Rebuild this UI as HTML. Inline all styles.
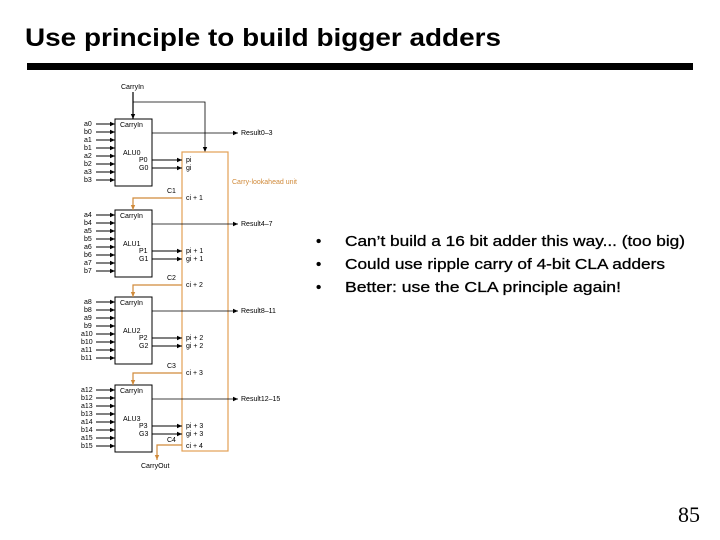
<!DOCTYPE html>
<html><head><meta charset="utf-8"><style>
html,body{margin:0;padding:0;background:#fff;width:720px;height:540px;overflow:hidden}
svg{display:block}
</style></head><body>
<svg width="720" height="540" xmlns="http://www.w3.org/2000/svg" font-family="Liberation Sans, Arial, sans-serif">
<defs>
<marker id="a" markerWidth="6" markerHeight="6" refX="5" refY="3" orient="auto" markerUnits="userSpaceOnUse"><path d="M0,0.8 L5,3 L0,5.2z" fill="#000"/></marker>
<marker id="o" markerWidth="6" markerHeight="6" refX="5" refY="3" orient="auto" markerUnits="userSpaceOnUse"><path d="M0,0.8 L5,3 L0,5.2z" fill="#d08a3a"/></marker>
</defs>
<text x="25" y="46" font-size="25" font-weight="bold" textLength="476" lengthAdjust="spacingAndGlyphs">Use principle to build bigger adders</text>
<rect x="27" y="63" width="666" height="7" fill="#000"/>

<text x="121" y="89" font-size="7">CarryIn</text>
<line x1="133" y1="92" x2="133" y2="119" stroke="#000" stroke-width="1.2" marker-end="url(#a)"/>
<polyline points="133,102 205,102 205,152" fill="none" stroke="#000" stroke-width="0.8" marker-end="url(#a)"/>

<rect x="182" y="152" width="46" height="299" fill="none" stroke="#e3a055" stroke-width="1.2"/>
<text x="232" y="184" font-size="7" fill="#d08a3a">Carry-lookahead unit</text>

<g font-size="7">
<g transform="translate(0,119)">
<rect x="115" y="0" width="37" height="67" fill="#fff" stroke="#000"/>
<text x="120" y="8">CarryIn</text><text x="123" y="36">ALU0</text><text x="139" y="43">P0</text><text x="139" y="51">G0</text>
<line x1="152" y1="41" x2="182" y2="41" stroke="#000" marker-end="url(#a)"/><line x1="152" y1="49" x2="182" y2="49" stroke="#000" marker-end="url(#a)"/>
<text x="186" y="43">pi</text><text x="186" y="51">gi</text>
<line x1="152" y1="14" x2="238" y2="14" stroke="#000" stroke-width="0.8" marker-end="url(#a)"/><text x="241" y="16">Result0–3</text>
<g stroke="#000"><line x1="96" y1="5" x2="115" y2="5" marker-end="url(#a)"/><line x1="96" y1="13" x2="115" y2="13" marker-end="url(#a)"/><line x1="96" y1="21" x2="115" y2="21" marker-end="url(#a)"/><line x1="96" y1="29" x2="115" y2="29" marker-end="url(#a)"/><line x1="96" y1="37" x2="115" y2="37" marker-end="url(#a)"/><line x1="96" y1="45" x2="115" y2="45" marker-end="url(#a)"/><line x1="96" y1="53" x2="115" y2="53" marker-end="url(#a)"/><line x1="96" y1="61" x2="115" y2="61" marker-end="url(#a)"/></g>
<text x="84" y="7">a0</text><text x="84" y="15">b0</text><text x="84" y="23">a1</text><text x="84" y="31">b1</text><text x="84" y="39">a2</text><text x="84" y="47">b2</text><text x="84" y="55">a3</text><text x="84" y="63">b3</text>
</g>
<g transform="translate(0,210)">
<rect x="115" y="0" width="37" height="67" fill="#fff" stroke="#000"/>
<text x="120" y="8">CarryIn</text><text x="123" y="36">ALU1</text><text x="139" y="43">P1</text><text x="139" y="51">G1</text>
<line x1="152" y1="41" x2="182" y2="41" stroke="#000" marker-end="url(#a)"/><line x1="152" y1="49" x2="182" y2="49" stroke="#000" marker-end="url(#a)"/>
<text x="186" y="43">pi + 1</text><text x="186" y="51">gi + 1</text>
<line x1="152" y1="14" x2="238" y2="14" stroke="#000" stroke-width="0.8" marker-end="url(#a)"/><text x="241" y="16">Result4–7</text>
<g stroke="#000"><line x1="96" y1="5" x2="115" y2="5" marker-end="url(#a)"/><line x1="96" y1="13" x2="115" y2="13" marker-end="url(#a)"/><line x1="96" y1="21" x2="115" y2="21" marker-end="url(#a)"/><line x1="96" y1="29" x2="115" y2="29" marker-end="url(#a)"/><line x1="96" y1="37" x2="115" y2="37" marker-end="url(#a)"/><line x1="96" y1="45" x2="115" y2="45" marker-end="url(#a)"/><line x1="96" y1="53" x2="115" y2="53" marker-end="url(#a)"/><line x1="96" y1="61" x2="115" y2="61" marker-end="url(#a)"/></g>
<text x="84" y="7">a4</text><text x="84" y="15">b4</text><text x="84" y="23">a5</text><text x="84" y="31">b5</text><text x="84" y="39">a6</text><text x="84" y="47">b6</text><text x="84" y="55">a7</text><text x="84" y="63">b7</text>
<text x="167" y="-17">C1</text><text x="186" y="-10">ci + 1</text>
<polyline points="182,-12 133,-12 133,0" fill="none" stroke="#d08a3a" stroke-width="1.2" marker-end="url(#o)"/>
</g>
<g transform="translate(0,297)">
<rect x="115" y="0" width="37" height="67" fill="#fff" stroke="#000"/>
<text x="120" y="8">CarryIn</text><text x="123" y="36">ALU2</text><text x="139" y="43">P2</text><text x="139" y="51">G2</text>
<line x1="152" y1="41" x2="182" y2="41" stroke="#000" marker-end="url(#a)"/><line x1="152" y1="49" x2="182" y2="49" stroke="#000" marker-end="url(#a)"/>
<text x="186" y="43">pi + 2</text><text x="186" y="51">gi + 2</text>
<line x1="152" y1="14" x2="238" y2="14" stroke="#000" stroke-width="0.8" marker-end="url(#a)"/><text x="241" y="16">Result8–11</text>
<g stroke="#000"><line x1="96" y1="5" x2="115" y2="5" marker-end="url(#a)"/><line x1="96" y1="13" x2="115" y2="13" marker-end="url(#a)"/><line x1="96" y1="21" x2="115" y2="21" marker-end="url(#a)"/><line x1="96" y1="29" x2="115" y2="29" marker-end="url(#a)"/><line x1="96" y1="37" x2="115" y2="37" marker-end="url(#a)"/><line x1="96" y1="45" x2="115" y2="45" marker-end="url(#a)"/><line x1="96" y1="53" x2="115" y2="53" marker-end="url(#a)"/><line x1="96" y1="61" x2="115" y2="61" marker-end="url(#a)"/></g>
<text x="84" y="7">a8</text><text x="84" y="15">b8</text><text x="84" y="23">a9</text><text x="84" y="31">b9</text><text x="81" y="39">a10</text><text x="81" y="47">b10</text><text x="81" y="55">a11</text><text x="81" y="63">b11</text>
<text x="167" y="-17">C2</text><text x="186" y="-10">ci + 2</text>
<polyline points="182,-12 133,-12 133,0" fill="none" stroke="#d08a3a" stroke-width="1.2" marker-end="url(#o)"/>
</g>
<g transform="translate(0,385)">
<rect x="115" y="0" width="37" height="67" fill="#fff" stroke="#000"/>
<text x="120" y="8">CarryIn</text><text x="123" y="36">ALU3</text><text x="139" y="43">P3</text><text x="139" y="51">G3</text>
<line x1="152" y1="41" x2="182" y2="41" stroke="#000" marker-end="url(#a)"/><line x1="152" y1="49" x2="182" y2="49" stroke="#000" marker-end="url(#a)"/>
<text x="186" y="43">pi + 3</text><text x="186" y="51">gi + 3</text>
<line x1="152" y1="14" x2="238" y2="14" stroke="#000" stroke-width="0.8" marker-end="url(#a)"/><text x="241" y="16">Result12–15</text>
<g stroke="#000"><line x1="96" y1="5" x2="115" y2="5" marker-end="url(#a)"/><line x1="96" y1="13" x2="115" y2="13" marker-end="url(#a)"/><line x1="96" y1="21" x2="115" y2="21" marker-end="url(#a)"/><line x1="96" y1="29" x2="115" y2="29" marker-end="url(#a)"/><line x1="96" y1="37" x2="115" y2="37" marker-end="url(#a)"/><line x1="96" y1="45" x2="115" y2="45" marker-end="url(#a)"/><line x1="96" y1="53" x2="115" y2="53" marker-end="url(#a)"/><line x1="96" y1="61" x2="115" y2="61" marker-end="url(#a)"/></g>
<text x="81" y="7">a12</text><text x="81" y="15">b12</text><text x="81" y="23">a13</text><text x="81" y="31">b13</text><text x="81" y="39">a14</text><text x="81" y="47">b14</text><text x="81" y="55">a15</text><text x="81" y="63">b15</text>
<text x="167" y="-17">C3</text><text x="186" y="-10">ci + 3</text>
<polyline points="182,-12 133,-12 133,0" fill="none" stroke="#d08a3a" stroke-width="1.2" marker-end="url(#o)"/>
<text x="167" y="57">C4</text><text x="186" y="63">ci + 4</text>
<polyline points="182,60 157,60 157,75" fill="none" stroke="#d08a3a" stroke-width="1.2" marker-end="url(#o)"/>
<text x="141" y="83">CarryOut</text>
</g>
</g>

<g font-size="15" stroke="#000" stroke-width="0.3">
<text x="316" y="246">•</text><text x="345" y="246" textLength="340" lengthAdjust="spacingAndGlyphs">Can’t build a 16 bit adder this way... (too big)</text>
<text x="316" y="269">•</text><text x="345" y="269" textLength="320" lengthAdjust="spacingAndGlyphs">Could use ripple carry of 4-bit CLA adders</text>
<text x="316" y="292">•</text><text x="345" y="292" textLength="276" lengthAdjust="spacingAndGlyphs">Better:  use the CLA principle again!</text>
</g>
<text x="678" y="522" font-size="22" font-family="Liberation Serif, serif">85</text>
</svg>
</body></html>
